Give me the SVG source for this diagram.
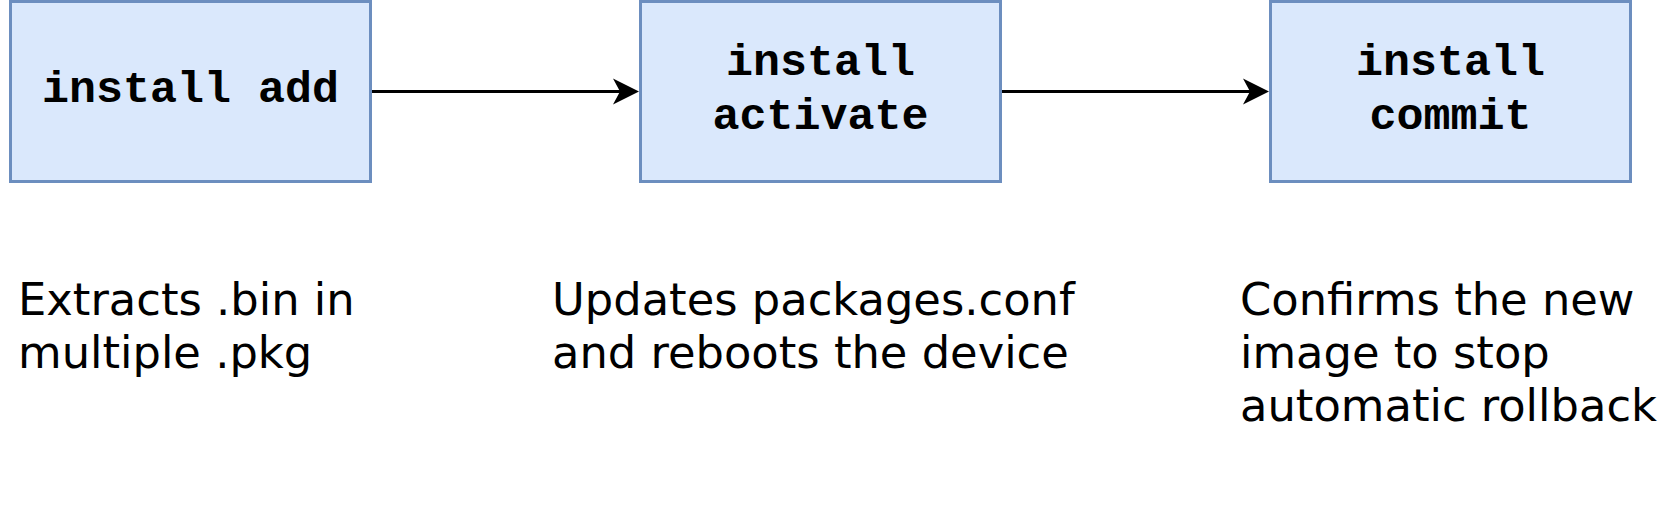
<svg xmlns="http://www.w3.org/2000/svg" width="1677" height="513" viewBox="0 0 1677 513">
<style>
.box{fill:#dae8fc;stroke:#6c8ebf;stroke-width:3}
.lbl{font-family:"Liberation Mono","Courier New",monospace;font-weight:bold;font-size:45px;fill:#000;text-anchor:middle}
.desc{font-family:"DejaVu Sans",Verdana,sans-serif;font-size:44.8px;fill:#000}
.edge{stroke:#000;stroke-width:3;fill:none}
</style>
<rect width="1677" height="513" fill="#fff"/>
<g id="connectors">
<line class="edge" x1="371.5" y1="91.5" x2="625" y2="91.5"/>
<path d="M639,91.5 L613,78.5 L620,91.5 L613,104.5 Z" fill="#000"/>
<line class="edge" x1="1001.5" y1="91.5" x2="1255" y2="91.5"/>
<path d="M1269,91.5 L1243,78.5 L1250,91.5 L1243,104.5 Z" fill="#000"/>
</g>
<g id="node-add">
<rect class="box" x="10.5" y="1.5" width="360" height="180"/>
<text class="lbl" x="190.5" y="102">install add</text>
</g>
<g id="node-activate">
<rect class="box" x="640.5" y="1.5" width="360" height="180"/>
<text class="lbl" x="820.5" y="75">install</text>
<text class="lbl" x="820.5" y="129">activate</text>
</g>
<g id="node-commit">
<rect class="box" x="1270.5" y="1.5" width="360" height="180"/>
<text class="lbl" x="1450.5" y="75">install</text>
<text class="lbl" x="1450.5" y="129">commit</text>
</g>
<g id="desc-add">
<text class="desc" x="18" y="315">Extracts .bin in</text>
<text class="desc" x="18" y="368">multiple .pkg</text>
</g>
<g id="desc-activate">
<text class="desc" x="552" y="315">Updates packages.conf</text>
<text class="desc" x="552" y="368">and reboots the device</text>
</g>
<g id="desc-commit">
<text class="desc" x="1240" y="315">Confirms the new</text>
<text class="desc" x="1240" y="368">image to stop</text>
<text class="desc" x="1240" y="421">automatic rollback</text>
</g>
</svg>
